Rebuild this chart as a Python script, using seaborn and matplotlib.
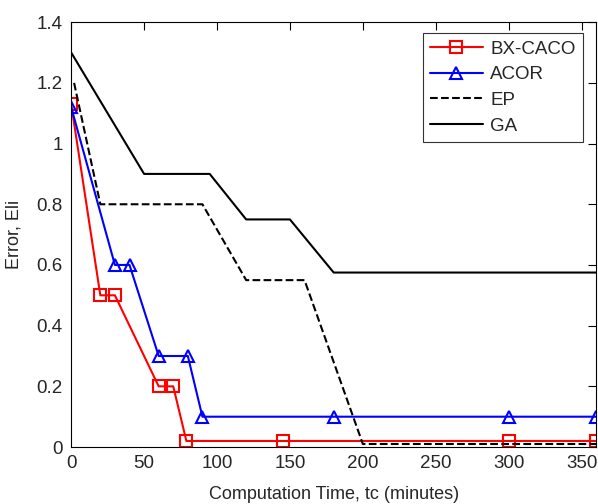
import numpy as np
import pandas as pd
import seaborn as sns
import matplotlib
matplotlib.use('Agg')
import matplotlib.pyplot as plt

# data
bx_t = [0, 20, 30, 60, 70, 79, 145, 300, 360]
bx_e = [1.13, 0.5, 0.5, 0.2, 0.2, 0.02, 0.02, 0.02, 0.02]

acor_t = [0, 30, 40, 60, 80, 90, 180, 300, 360]
acor_e = [1.12, 0.6, 0.6, 0.3, 0.3, 0.1, 0.1, 0.1, 0.1]

ep_t = [2, 20, 90, 120, 160, 200, 360]
ep_e = [1.2, 0.8, 0.8, 0.55, 0.55, 0.01, 0.01]

ga_t = [0, 50, 95, 120, 150, 180, 360]
ga_e = [1.3, 0.9, 0.9, 0.75, 0.75, 0.575, 0.575]

sns.set_style('white')
plt.rcParams['font.family'] = ['Liberation Sans', 'DejaVu Sans']

fig = plt.figure(figsize=(5.98, 5.04), dpi=100)
ax = fig.add_axes([0.119, 0.113, 0.878, 0.843])

sns.lineplot(x=bx_t, y=bx_e, ax=ax, color='red', lw=1.5, marker='s',
             markersize=8, markerfacecolor='none', markeredgecolor='red',
             markeredgewidth=1.5, sort=False, label='BX-CACO')
sns.lineplot(x=acor_t, y=acor_e, ax=ax, color='blue', lw=1.5, marker='^',
             markersize=9, markerfacecolor='none', markeredgecolor='blue',
             markeredgewidth=1.5, sort=False, label='ACOR')
sns.lineplot(x=ep_t, y=ep_e, ax=ax, color='black', lw=1.5, linestyle='--',
             sort=False, label='EP')
sns.lineplot(x=ga_t, y=ga_e, ax=ax, color='black', lw=1.5,
             sort=False, label='GA')

ax.set_xlim(0, 360)
ax.set_ylim(0, 1.4)
ax.set_xticks(np.arange(0, 351, 50))
ax.set_yticks(np.arange(0, 1.41, 0.2))
ax.set_yticklabels(['0', '0.2', '0.4', '0.6', '0.8', '1', '1.2', '1.4'])
ax.tick_params(direction='in', top=True, right=True, length=6, pad=6,
               labelsize=13.5, color='black')
for s in ax.spines.values():
    s.set_visible(True)
    s.set_color('black')
    s.set_linewidth(0.8)

ax.set_xlabel('Computation Time, tc (minutes)', fontsize=13, labelpad=10)
ax.set_ylabel('Error, Eli', fontsize=13, labelpad=10)

leg = ax.legend(loc='upper right', fontsize=13.5, frameon=True, fancybox=False,
                edgecolor='black', handlelength=2.8, borderpad=0.4,
                labelspacing=0.45, handletextpad=0.4, borderaxespad=0,
                bbox_to_anchor=(0.975, 0.974))
leg.get_frame().set_linewidth(0.8)

fig.savefig('out.png', dpi=100)
